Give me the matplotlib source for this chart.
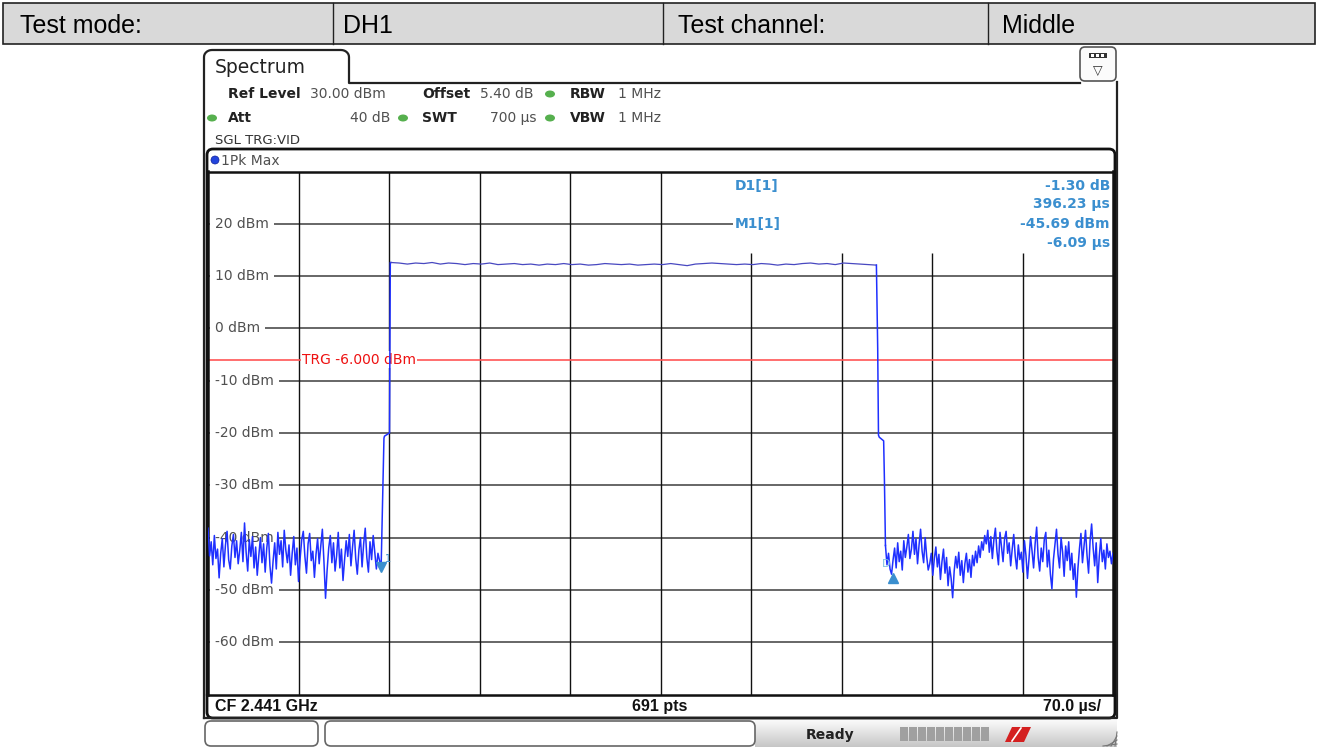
import numpy as np
import matplotlib
matplotlib.use("Agg")
import matplotlib.pyplot as plt
from matplotlib.patches import Rectangle, FancyBboxPatch, Ellipse, Polygon
from matplotlib.transforms import blended_transform_factory

# header table
header_cells = ["Test mode:", "DH1", "Test channel:", "Middle"]

# analyzer settings
ref_level = 30.0
bottom_level = -70.0
span_start = -140.0   # us, pre-trigger
sweep_time = 700.0    # us
level_ticks = [20, 10, 0, -10, -20, -30, -40, -50, -60]
time_ticks = [-70, 0, 70, 140, 210, 280, 350, 420, 490]
trg_level = -6.0

# markers
m1_t = -6.09
m1_v = -45.69
d1_dt = 396.23
d1_dv = -1.30

# trace (dBm), 1Pk Max
left_noise = [-38.2, -43.5, -40.8, -45.2, -39.6, -44.0, -42.2, -47.7, -43.0, -40.2,
              -45.6, -41.4, -38.8, -44.2, -46.0, -41.6, -39.4, -43.8, -40.6, -45.0,
              -42.4, -39.0, -44.6, -37.2, -42.8, -46.4, -40.4, -43.6, -39.8, -45.8,
              -41.8, -47.2, -43.4, -40.0, -44.8, -41.2, -46.6, -42.0, -39.2, -45.4,
              -48.7, -44.4, -41.0, -46.0, -39.0, -43.2, -40.6, -45.6, -38.6, -42.4,
              -44.8, -41.4, -47.2, -43.0, -39.8, -45.2, -42.0, -48.4, -44.0, -40.4,
              -38.8, -43.6, -46.8, -41.2, -39.2, -44.4, -42.6, -47.6, -43.2, -40.2,
              -45.0, -41.6, -38.4, -44.6, -51.6, -46.2, -42.0, -39.6, -44.8, -41.0,
              -46.4, -43.4, -39.0, -45.8, -42.2, -48.2, -44.2, -40.6, -43.6, -39.4,
              -45.4, -41.8, -38.6, -44.0, -47.0, -42.4, -40.0, -45.6, -41.2, -38.2,
              -43.8, -46.6, -40.8, -44.2, -39.6, -42.8, -46.0, -43.0, -44.4, -45.69]
rise_t = [-3.9, -3.5, 0.4, 1.0]
rise_v = [-21.0, -20.6, -20.0, 12.6]
plateau = [12.6, 12.5, 12.3, 12.5, 12.4, 12.6, 12.3, 12.5, 12.4, 12.2,
           12.4, 12.3, 12.5, 12.2, 12.3, 12.4, 12.2, 12.3, 12.1, 12.3,
           12.2, 12.4, 12.2, 12.3, 12.1, 12.2, 12.4, 12.3, 12.2, 12.3,
           12.1, 12.2, 12.3, 12.2, 12.4, 12.2, 12.0, 12.3, 12.4, 12.5,
           12.4, 12.3, 12.2, 12.3, 12.2, 12.4, 12.3, 12.1, 12.3, 12.2,
           12.4, 12.5, 12.3, 12.4, 12.2, 12.5, 12.4, 12.3, 12.2, 12.1]
fall_t = [378.0, 378.6, 379.2, 382.6, 383.2]
fall_v = [-3.8, -20.4, -20.8, -21.5, -29.0]
right_noise = [-41.5, -45.2, -43.0, -46.0, -47.0, -44.2, -42.0, -45.8, -41.0, -44.6,
               -42.6, -46.2, -40.6, -43.8, -41.8, -39.4, -44.0, -42.2, -38.8, -43.2,
               -40.2, -45.0, -41.4, -38.4, -42.6, -44.8, -40.0, -43.6, -46.2, -45.0,
               -43.0, -47.2, -44.0, -41.8, -45.6, -43.2, -48.0, -44.6, -42.2, -46.8,
               -43.8, -49.2, -45.6, -47.8, -51.5, -46.4, -43.6, -45.8, -42.8, -47.2,
               -44.4, -48.6, -45.0, -43.0, -46.6, -44.2, -47.6, -43.4, -45.4, -42.6,
               -44.8, -41.6, -43.8, -40.8, -42.4, -39.6, -41.2, -38.6, -42.8, -39.8,
               -44.0, -40.4, -38.2, -42.6, -45.2, -39.0, -41.8, -44.6, -40.2, -38.8,
               -43.0, -41.0, -45.4, -42.2, -39.4, -43.6, -46.0, -41.4, -44.2, -42.8,
               -46.6, -40.6, -43.4, -47.8, -44.0, -39.8, -42.6, -45.8, -41.2, -38.0,
               -43.8, -46.4, -42.0, -44.6, -40.4, -39.0, -45.6, -42.4, -47.0, -49.8,
               -44.2, -41.4, -38.4, -43.2, -45.8, -40.0, -42.8, -47.4, -41.6, -44.4,
               -40.8, -46.2, -43.0, -48.0, -45.0, -51.4, -46.0, -42.2, -39.2, -44.8,
               -41.8, -38.6, -43.4, -46.8, -40.6, -37.4, -42.0, -45.4, -41.0, -48.6,
               -43.6, -40.2, -44.6, -42.4, -46.0, -41.2, -43.8, -42.6, -45.0, -43.0]

W, H = 1319, 747
fig = plt.figure(figsize=(W / 100, H / 100), dpi=100)
bg = fig.add_axes([0, 0, 1, 1])
bg.axis("off")

mark_blue = "#3b8fcf"
trace_blue = "#1f30ff"
txt_gray = "#505050"
inst_font = "DejaVu Sans"

# ---- top table
edges = [3, 333, 663, 988, 1315]
text_x = [20, 343, 678, 1002]
bg.add_patch(Rectangle((edges[0], 3), edges[-1] - edges[0], 41,
                       facecolor="#d9d9d9", edgecolor="#222222", lw=1.2))
for x in edges[1:-1]:
    bg.plot([x, x], [3, 44], color="#222222", lw=1)
for label, x in zip(header_cells, text_x):
    bg.text(x, 33, label, fontsize=18, family="Liberation Sans", va="baseline", color="black")

# ---- instrument frame
tab = [(204, 718), (204, 57)] + \
      [(212 - 8 * np.cos(a), 57 - 7 * np.sin(a)) for a in np.linspace(0, np.pi / 2, 8)] + \
      [(341, 50)] + \
      [(341 + 8 * np.sin(a), 57 - 7 * np.cos(a)) for a in np.linspace(0, np.pi / 2, 8)] + \
      [(349, 83), (1080, 83)]
tx, ty = zip(*tab)
bg.plot(tx, ty, color="#222222", lw=1.6)
bg.plot([1117, 1117, 204], [82, 718, 718], color="#222222", lw=1.6)
bg.add_patch(FancyBboxPatch((1080, 47), 36, 34, boxstyle="round,pad=0,rounding_size=5",
                            facecolor="#fbfbfb", edgecolor="#555555", lw=1.2))
bg.add_patch(Rectangle((1089, 53), 18, 5, facecolor="#333333", edgecolor="none"))
for sx in [1091, 1096, 1101]:
    bg.add_patch(Rectangle((sx, 54.2), 3, 2.6, facecolor="white", edgecolor="none"))
bg.text(1098, 70, "\u25BD", fontsize=9, ha="center", va="center", color="#333333")
bg.text(215, 73, "Spectrum", fontsize=13.5, family=inst_font, color="#222222", va="baseline")

# settings text
bold_items = [("Ref Level", 228, 98), ("Offset", 422, 98), ("RBW", 570, 98),
              ("Att", 228, 122), ("SWT", 422, 122), ("VBW", 570, 122)]
for s, x, y in bold_items:
    bg.text(x, y, s, fontsize=10, fontweight="bold", family=inst_font, color="#222222", va="baseline")
plain_items = [("30.00 dBm", 310, 98, "left"), ("5.40 dB", 480, 98, "left"), ("1 MHz", 618, 98, "left"),
               ("40 dB", 390, 122, "right"), ("700 \u00b5s", 537, 122, "right"), ("1 MHz", 618, 122, "left")]
for s, x, y, ha in plain_items:
    bg.text(x, y, s, fontsize=10, family=inst_font, color=txt_gray, va="baseline", ha=ha)
for gx, gy in [(550, 94), (212, 118), (403, 118), (550, 118)]:
    bg.add_patch(Ellipse((gx, gy), 10, 7, facecolor="#56b04e", edgecolor="none"))
bg.text(215, 143.5, "SGL TRG:VID", fontsize=9.5, family=inst_font, color="#333333", va="baseline")

# diagram frame + header
bg.add_patch(FancyBboxPatch((207, 149), 908, 569, boxstyle="round,pad=0,rounding_size=6",
                            facecolor="white", edgecolor="#111111", lw=2))
bg.add_patch(Ellipse((215, 160), 8, 8, facecolor="#2244dd", edgecolor="#112299", lw=0.5))
bg.text(221, 165, "1Pk Max", fontsize=10, family=inst_font, color=txt_gray, va="baseline")
bg.plot([207, 1115], [695, 695], color="#111111", lw=1.6)
bg.text(215, 711, "CF 2.441 GHz", fontsize=11.5, fontweight="bold", family="Liberation Sans",
        color="#111111", va="baseline")
bg.text(660, 711, "691 pts", fontsize=11.5, fontweight="bold", family="Liberation Sans",
        color="#111111", va="baseline", ha="center")
bg.text(1101, 711, "70.0 \u00b5s/", fontsize=11.5, fontweight="bold", family="Liberation Sans",
        color="#111111", va="baseline", ha="right")

# ---- status bar
grad = np.linspace(0.98, 0.78, 27)[:, None, None] * np.ones((27, 60, 3))
bg.imshow(grad, extent=(755, 1117, 747, 720), aspect="auto", origin="upper", zorder=0)
for x0, w in [(205, 113), (325, 430)]:
    bg.add_patch(FancyBboxPatch((x0, 721), w, 25, boxstyle="round,pad=0,rounding_size=6",
                                facecolor="white", edgecolor="#666666", lw=1.2))
bg.text(806, 739, "Ready", fontsize=10, fontweight="bold", family=inst_font, color="#222222", va="baseline")
for i in range(10):
    bg.add_patch(Rectangle((900 + i * 9, 727), 8, 14, facecolor="#a0a0a0", edgecolor="none"))
bg.add_patch(Polygon([(1005, 742), (1012, 727), (1031, 727), (1024, 742)], facecolor="#d42020", edgecolor="none"))
bg.plot([1012, 1021], [741, 728], color="white", lw=1.2)
for i in range(4):
    bg.plot([1103 + i * 4, 1117], [746, 732 - i * 4 + 12], color="#777777", lw=0.8)

bg.set_xlim(0, W)
bg.set_ylim(H, 0)

# ---- diagram
ax = fig.add_axes([208 / W, 1 - 694.5 / H, 905 / W, 523 / H])
ax.set_zorder(2)
ax.set_xlim(span_start, span_start + sweep_time)
ax.set_ylim(bottom_level, ref_level)
ax.set_xticks([])
ax.set_yticks([])
for sp in ax.spines.values():
    sp.set_color("#111111")
    sp.set_linewidth(1.8)

info_top = 14.4   # marker info box bottom edge (dBm)
m1_label_t = 266.0
for lv in level_ticks:
    x_end = m1_label_t if lv == 20 else span_start + sweep_time
    ax.hlines(lv, span_start, x_end, color="#5a5a5a", lw=1.3, zorder=1)
for t in time_ticks:
    top = info_top if t >= 280 else ref_level
    ax.vlines(t, bottom_level, top, color="#111111", lw=1.0, zorder=1)

px = blended_transform_factory(bg.transData, ax.transData)
for lv in level_ticks:
    ax.text(215, lv, f"{lv} dBm", transform=px, fontsize=10, family=inst_font, color=txt_gray,
            va="center", ha="left", zorder=2,
            bbox=dict(boxstyle="square,pad=0.35", facecolor="white", edgecolor="none"))

ax.axhline(trg_level, color="#ff5555", lw=1.2, zorder=2)
ax.text(302, trg_level, f"TRG {trg_level:.3f} dBm", transform=px, fontsize=10, family=inst_font,
        color="#ee1111", va="center", ha="left", zorder=3,
        bbox=dict(boxstyle="square,pad=0.1", facecolor="white", edgecolor="none"))

# trace
t_left = np.linspace(span_start, m1_t, len(left_noise))
t_plat = np.linspace(1.5, 377.0, len(plateau))
t_right = np.linspace(384.0, span_start + sweep_time, len(right_noise))
rise_tt = list(t_left) + rise_t + [t_plat[0]]
rise_vv = list(left_noise) + rise_v + [plateau[0]]
ax.plot(rise_tt, rise_vv, color=trace_blue, lw=1.1, zorder=4)
ax.plot(t_plat, plateau, color="#4848c0", lw=0.9, zorder=4)
ax.plot([t_plat[-1]] + fall_t + [t_right[0]], [plateau[-1]] + fall_v + [right_noise[0]],
        color=trace_blue, lw=1.1, zorder=4)
ax.plot(t_right, right_noise, color=trace_blue, lw=1.1, zorder=4)

# markers
d1_t = m1_t + d1_dt
d1_v = m1_v + d1_dv
ax.plot(m1_t, m1_v, marker="v", ms=7, color=mark_blue, zorder=5)
ax.annotate("1", (m1_t, m1_v), xytext=(3, 4), textcoords="offset points", fontsize=7,
            color=mark_blue, zorder=5)
ax.plot(d1_t, d1_v - 0.8, marker="^", ms=7, color=mark_blue, zorder=5)
ax.annotate("D", (d1_t, d1_v), xytext=(-8, 5), textcoords="offset points", fontsize=8,
            color="#7fc0e0", zorder=5)

info = [("D1[1]", f"{d1_dv:.2f} dB", 190), ("", f"{d1_dt:.2f} \u00b5s", 208),
        ("M1[1]", f"{m1_v:.2f} dBm", 228), ("", f"{m1_t:.2f} \u00b5s", 247)]
for name, val, y in info:
    if name:
        ax.text(735, y, name, transform=bg.transData, fontsize=10, fontweight="bold",
                family=inst_font, color=mark_blue, va="baseline", zorder=6)
    ax.text(1110, y, val, transform=bg.transData, fontsize=10, fontweight="bold",
            family=inst_font, color=mark_blue, va="baseline", ha="right", zorder=6)

fig.savefig("out.png", dpi=100)
